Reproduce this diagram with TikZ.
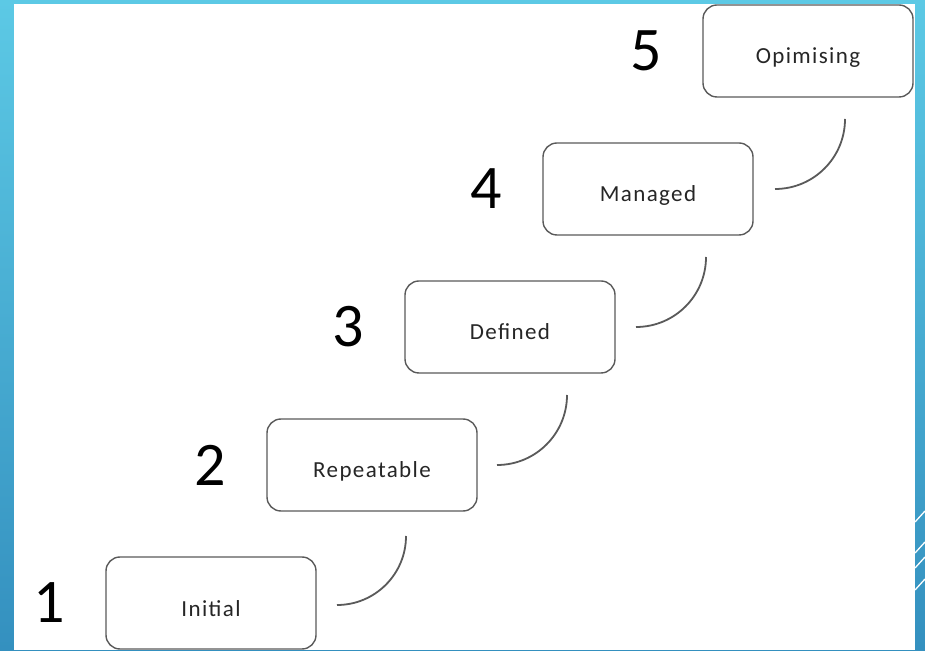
\documentclass[tikz,border=0pt]{standalone}
\usepackage{fontspec}
\usetikzlibrary{positioning}
\newfontfamily\stagefont[LetterSpace=6]{Carlito}
\newfontfamily\levelfont{Carlito}
\definecolor{bgtop}{HTML}{5CC9E5}
\definecolor{bgbottom}{HTML}{3490BF}
\definecolor{boxgray}{HTML}{5A5A5A}
\definecolor{labelgray}{HTML}{262626}

\begin{document}
\begin{tikzpicture}[
    x=1pt, y=1pt,
    node distance=46pt and 41pt,
    stage/.style={draw=boxgray, line width=1.4pt, rounded corners=14pt, minimum width=210pt, minimum height=92pt, inner sep=0pt, outer sep=0pt, text height=31pt, text depth=5pt, font=\stagefont\fontsize{23}{28}\selectfont, text=labelgray},
    level/.style={inner sep=0pt, font=\levelfont\fontsize{62}{70}\selectfont},
    stepcurve/.style={draw=boxgray, line width=1.8pt}
]

% Background and frame
\shade[top color=bgtop, bottom color=bgbottom] (0,0) rectangle (925,650);
\fill[white] (14,0) rectangle (915,646);
\useasboundingbox (0,0) rectangle (925,650);
\draw[white, line width=1.3pt] (915,128) -- (925,139);
\draw[white, line width=1.3pt] (915,97) -- (925,108);
\draw[white, line width=1.3pt] (915,82) -- (925,93);
\draw[white, line width=1.3pt] (915,60) -- (925,71);

% Stage 1
\node[stage] (initial) at (211,47) {Initial};
\node[level, left=of initial] (one) {1};

% Stage 2
\node[stage, above=of initial, xshift=161pt] (repeatable) {Repeatable};
\node[level, left=of repeatable] (two) {2};

% Stage 3
\node[stage, above=of repeatable, xshift=138pt] (defined) {Defined};
\node[level, left=of defined] (three) {3};

% Stage 4
\node[stage, above=of defined, xshift=138pt] (managed) {Managed};
\node[level, left=of managed] (four) {4};

% Stage 5
\node[stage, above=of managed, xshift=160pt] (optimising) {Opimising};
\node[level, left=of optimising] (five) {5};

% Steps
\draw[stepcurve] ([xshift=21pt,yshift=-2pt]initial.east) arc[start angle=-90, end angle=0, radius=69pt];
\draw[stepcurve] ([xshift=20pt]repeatable.east) arc[start angle=-90, end angle=0, radius=70pt];
\draw[stepcurve] ([xshift=21pt]defined.east) arc[start angle=-90, end angle=0, radius=70pt];
\draw[stepcurve] ([xshift=22pt]managed.east) arc[start angle=-90, end angle=0, radius=70pt];

\end{tikzpicture}
\end{document}
